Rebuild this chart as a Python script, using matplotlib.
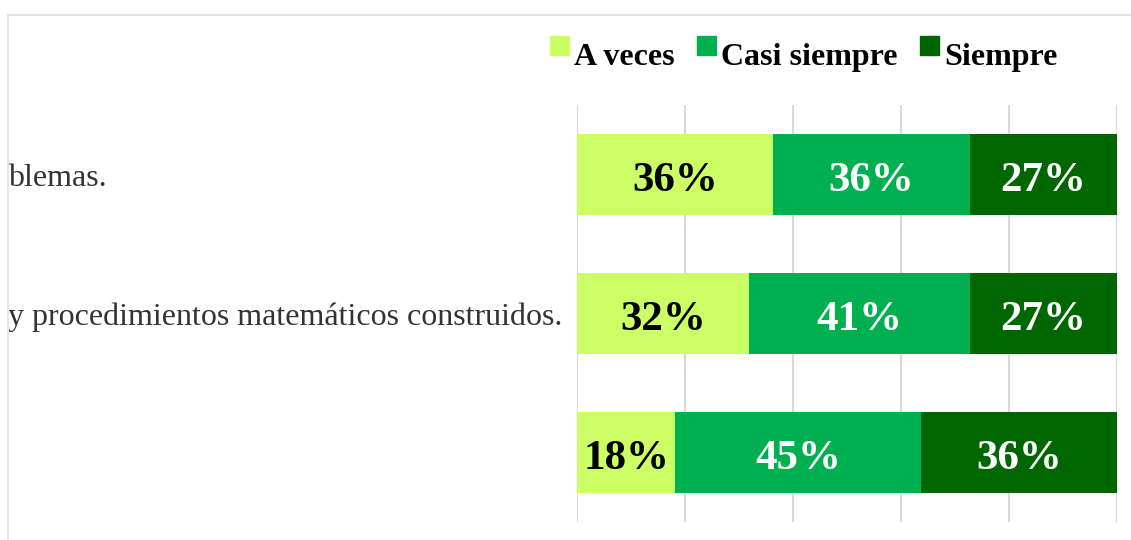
#! /usr/bin/env python
# coding: utf-8

import numpy as np
from matplotlib import pyplot as plt
from matplotlib.patches import Patch, Rectangle
from matplotlib.legend_handler import HandlerPatch

plt.rcParams['font.family'] = ['Liberation Serif', 'DejaVu Serif']

# data
categories = ["blemas.", "y procedimientos matemáticos construidos.", ""]
series = ["A veces", "Casi siempre", "Siempre"]
a_veces = [36.36, 31.82, 18.18]
casi_siempre = [36.36, 40.91, 45.45]
siempre = [27.27, 27.27, 36.36]
colors = ["#CCFF66", "#00B050", "#006600"]
text_colors = ["black", "white", "white"]

fig = plt.figure(figsize=(11.31, 5.4), dpi=100)
ax = fig.add_axes([577 / 1131, 18 / 540, 540 / 1131, 417 / 540])

y = np.arange(len(categories))
left = np.zeros(len(categories))
for name, vals, c, tc in zip(series, [a_veces, casi_siempre, siempre], colors, text_colors):
    ax.barh(y, vals, left=left, height=0.586, color=c, label=name, zorder=2)
    for yi, l, v in zip(y, left, vals):
        ax.annotate("%d%%" % round(v), (l + v / 2, yi), xytext=(0, -12),
                    textcoords='offset points', ha='center', va='baseline',
                    color=tc, fontsize=31, fontweight='bold', zorder=3)
    left += np.array(vals)

ax.set_xlim(0, 100)
ax.set_ylim(2.5, -0.5)
ax.set_xticks(range(0, 101, 20))
ax.tick_params(axis='x', length=0, labelbottom=False)
# labels are cut by the chart border, so they start at its left edge
ax.tick_params(axis='y', length=0, pad=(577 - 8) * 0.72, labelsize=23, labelcolor='#333333')
ax.set_yticks(y)
ax.set_yticklabels(categories, ha='left')
ax.grid(axis='x', color='#d9d9d9', lw=1.5, zorder=0)
for s in ax.spines.values():
    s.set_visible(False)


# legend squares sit high next to the text
def raised_square(legend, orig_handle, xdescent, ydescent, width, height, fontsize):
    side = 19 * 0.72
    return Rectangle((-xdescent, -ydescent + 7.2), side, side)


handles = [Patch(color=c, label=n) for c, n in zip(colors, series)]
ax.legend(handles=handles, loc='lower left', bbox_to_anchor=(550 / 1131, (540 - 72) / 540),
          bbox_transform=fig.transFigure, ncol=3, frameon=False,
          prop={'size': 23, 'weight': 'bold'}, handlelength=0.6, handletextpad=0.16,
          columnspacing=0.69, borderpad=0, borderaxespad=0,
          handler_map={Patch: HandlerPatch(patch_func=raised_square)})

# chart area border (cut off at right/bottom)
fig.patches.append(Rectangle((8 / 1131, -0.1), 1.2, (540 - 15) / 540 + 0.1,
                             transform=fig.transFigure, fill=False,
                             ec='#e6e6e6', lw=1.5))

plt.savefig("out.png", dpi=100)
